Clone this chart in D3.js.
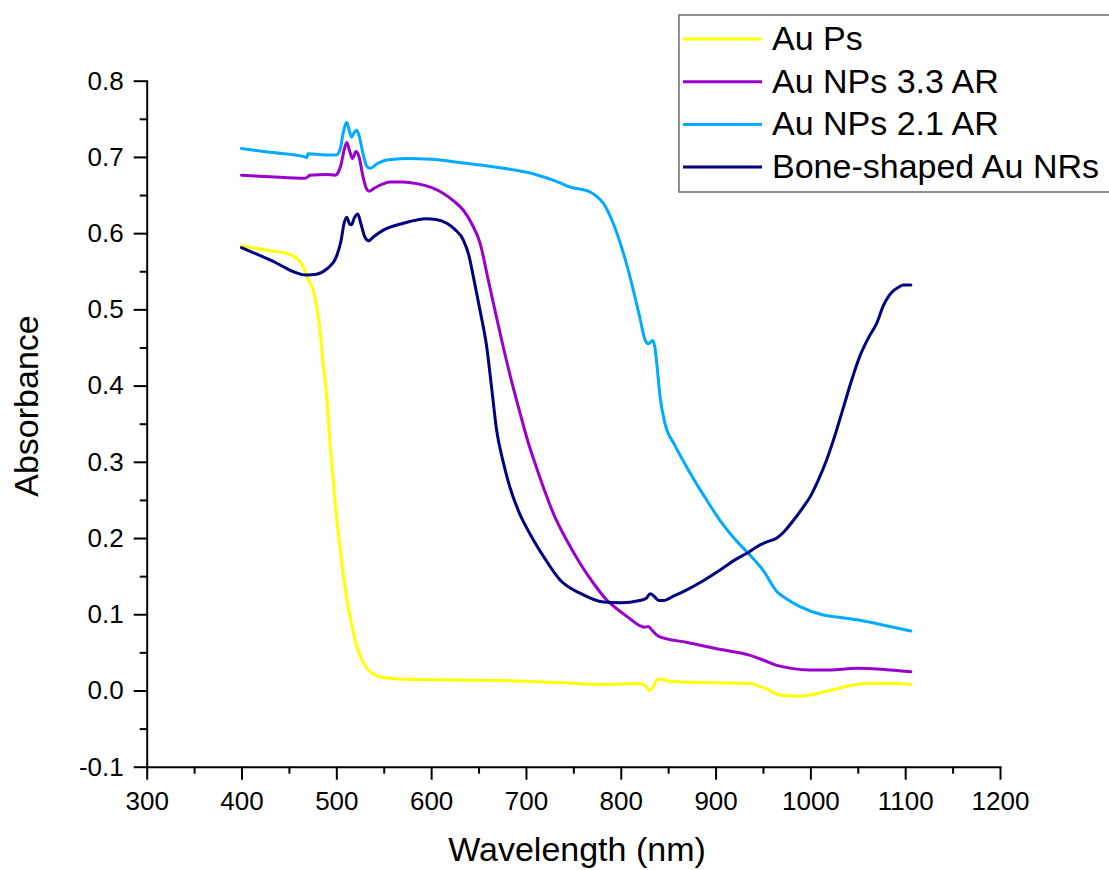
<!DOCTYPE html>
<html>
<head>
<meta charset="utf-8">
<script src="https://cdn.jsdelivr.net/npm/d3@7"></script>
<style>
  body { margin: 0; background: #fff; }
  svg { display: block; font-family: "Liberation Sans", Arial, sans-serif; }
</style>
</head>
<body>
<div id="container"></div>
<script>
// spectra (wavelength nm / absorbance)
const auPsNm = [400, 430, 451, 460, 465, 470, 475.7, 479, 482.8, 486, 489.9, 493, 496.8, 500, 503.9, 507, 511, 516, 521.5, 527, 533, 542.6, 555, 567, 600, 640, 672.7, 700, 740, 780, 820, 826, 830, 834, 838, 842, 850, 900, 936, 947, 957.6, 964.6, 975, 989, 1000, 1013.7, 1030, 1042, 1066, 1090, 1106];
const auPsAbs = [0.583, 0.577, 0.572, 0.565, 0.556, 0.540, 0.525, 0.505, 0.473, 0.43, 0.385, 0.33, 0.276, 0.23, 0.188, 0.155, 0.121, 0.088, 0.058, 0.040, 0.028, 0.019, 0.016, 0.015, 0.014, 0.0135, 0.013, 0.012, 0.010, 0.008, 0.009, 0.006, 0.000, 0.004, 0.014, 0.015, 0.012, 0.010, 0.009, 0.005, 0.000, -0.005, -0.007, -0.0075, -0.006, -0.002, 0.003, 0.0065, 0.0095, 0.009, 0.008];

const np33Nm = [400, 430, 467, 470, 472, 490, 498.6, 502, 505, 508, 511, 514, 517, 520.8, 524, 528, 532, 535, 540, 548, 556.6, 570, 584.8, 600, 613, 624, 634, 643, 651.6, 660, 668, 676, 685, 693.8, 702, 711, 720, 729, 743, 757, 771, 785, 797, 809.8, 820, 825, 829, 833, 840, 870, 900, 936.6, 950, 964.6, 980, 999.7, 1020, 1049, 1075, 1106];
const np33Abs = [0.676, 0.674, 0.672, 0.674, 0.676, 0.677, 0.676, 0.680, 0.690, 0.708, 0.719, 0.708, 0.698, 0.707, 0.700, 0.675, 0.658, 0.655, 0.659, 0.664, 0.667, 0.667, 0.665, 0.660, 0.652, 0.642, 0.630, 0.612, 0.587, 0.540, 0.495, 0.451, 0.405, 0.364, 0.327, 0.293, 0.261, 0.232, 0.197, 0.167, 0.141, 0.119, 0.106, 0.094, 0.085, 0.083, 0.084, 0.079, 0.071, 0.063, 0.055, 0.046, 0.040, 0.033, 0.029, 0.027, 0.027, 0.029, 0.028, 0.0245];

const np21Nm = [400, 430, 467, 469, 470, 485, 500, 504, 507, 511, 514, 516, 519, 521.5, 524, 528, 532, 535.5, 543, 553, 574, 600, 634, 660, 687, 710, 734, 745, 767.6, 775, 781.7, 792, 806, 820, 825.6, 829, 833.8, 836, 838, 841.5, 846.7, 857, 869.6, 887, 904.8, 920, 936, 950, 964.6, 975, 989, 1013.7, 1030, 1052, 1080, 1106];
const np21Abs = [0.711, 0.706, 0.700, 0.699, 0.704, 0.703, 0.7025, 0.710, 0.730, 0.745, 0.733, 0.726, 0.732, 0.735, 0.728, 0.705, 0.688, 0.685, 0.691, 0.696, 0.698, 0.697, 0.692, 0.688, 0.683, 0.677, 0.667, 0.661, 0.654, 0.648, 0.639, 0.613, 0.560, 0.490, 0.460, 0.455, 0.459, 0.450, 0.429, 0.385, 0.350, 0.322, 0.293, 0.257, 0.223, 0.199, 0.178, 0.158, 0.130, 0.120, 0.110, 0.099, 0.096, 0.092, 0.085, 0.078];

const boneNm = [400, 430, 468.8, 479, 490, 500, 505, 508, 511, 514, 516, 519, 522.6, 526, 530, 533.8, 540, 549.6, 570.7, 595, 605, 616.5, 625, 634, 640, 644.5, 652, 658.6, 664, 669, 676, 683, 693, 704, 720, 736, 758, 781.7, 800, 820, 827, 831, 835, 840, 845, 856, 869.6, 887, 904.8, 920, 933, 947, 954, 964.6, 972, 982, 991, 999.7, 1008, 1017, 1026, 1035, 1043, 1052, 1061, 1070, 1077, 1083, 1088, 1093, 1098, 1106];
const boneAbs = [0.581, 0.565, 0.545, 0.546, 0.553, 0.569, 0.590, 0.612, 0.621, 0.612, 0.611, 0.620, 0.625, 0.612, 0.595, 0.590, 0.596, 0.604, 0.613, 0.619, 0.618, 0.613, 0.605, 0.591, 0.570, 0.543, 0.496, 0.451, 0.395, 0.342, 0.300, 0.267, 0.233, 0.206, 0.173, 0.145, 0.127, 0.116, 0.115, 0.118, 0.121, 0.127, 0.124, 0.118, 0.118, 0.124, 0.132, 0.144, 0.158, 0.171, 0.180, 0.191, 0.195, 0.200, 0.208, 0.223, 0.238, 0.254, 0.275, 0.302, 0.335, 0.372, 0.405, 0.438, 0.462, 0.482, 0.505, 0.518, 0.525, 0.529, 0.532, 0.532];

const seriesNames = ["Au Ps", "Au NPs 3.3 AR", "Au NPs 2.1 AR", "Bone-shaped Au NRs"];
const seriesColors = ["#ffff00", "#9900cc", "#00aaff", "#000080"];

const xTicks = [300, 400, 500, 600, 700, 800, 900, 1000, 1100, 1200];
const xMinor = [350, 450, 550, 650, 750, 850, 950, 1050, 1150];
const yTicks = [-0.1, 0.0, 0.1, 0.2, 0.3, 0.4, 0.5, 0.6, 0.7, 0.8];
const yMinor = [-0.05, 0.05, 0.15, 0.25, 0.35, 0.45, 0.55, 0.65, 0.75];

const w = 1109;
const h = 870;
const svg = d3.select("#container").append("svg")
              .attr("width", w).attr("height", h);

const scaleX = d3.scaleLinear().domain([300, 1200]).range([146.7, 1000]);
const scaleY = d3.scaleLinear().domain([-0.1, 0.8]).range([766.7, 80.7]);

const series = [
  auPsNm.map((d, i) => [d, auPsAbs[i]]),
  np33Nm.map((d, i) => [d, np33Abs[i]]),
  np21Nm.map((d, i) => [d, np21Abs[i]]),
  boneNm.map((d, i) => [d, boneAbs[i]])
];

const line = d3.line()
  .x(d => scaleX(d[0]))
  .y(d => scaleY(d[1]))
  .curve(d3.curveMonotoneX);

svg.selectAll("path.curve").data(series).enter().append("path")
   .attr("class", "curve")
   .attr("d", line)
   .attr("fill", "none")
   .attr("stroke", (d, i) => seriesColors[i])
   .attr("stroke-width", 3)
   .attr("stroke-linejoin", "round")
   .attr("stroke-linecap", "round");

// minor ticks first, then the labelled axes on top
svg.append("g")
   .attr("transform", "translate(0, " + scaleY(-0.1) + ")")
   .call(d3.axisBottom(scaleX).tickValues(xMinor).tickSize(7).tickSizeOuter(0).tickFormat(""))
   .call(g => g.select(".domain").remove())
   .selectAll("line").attr("stroke-width", 2);
svg.append("g")
   .attr("transform", "translate(" + scaleX(300) + ", 0)")
   .call(d3.axisLeft(scaleY).tickValues(yMinor).tickSize(7).tickSizeOuter(0).tickFormat(""))
   .call(g => g.select(".domain").remove())
   .selectAll("line").attr("stroke-width", 2);

const xAxisGroup = svg.append("g")
   .attr("transform", "translate(0, " + scaleY(-0.1) + ")")
   .call(d3.axisBottom(scaleX).tickValues(xTicks).tickSize(13).tickSizeOuter(0).tickPadding(12).tickFormat(d3.format("d")));
const yAxisGroup = svg.append("g")
   .attr("transform", "translate(" + scaleX(300) + ", 0)")
   .call(d3.axisLeft(scaleY).tickValues(yTicks).tickSize(13).tickSizeOuter(0).tickPadding(10)
     .tickFormat(d => d3.format(".1f")(d).replace("\u2212", "-")));

[xAxisGroup, yAxisGroup].forEach(g => {
  g.select(".domain").attr("stroke-width", 2).attr("stroke-linecap", "square");
  g.selectAll(".tick line").attr("stroke-width", 2);
  g.selectAll(".tick text").attr("font-size", 26).attr("fill", "#000")
   .attr("font-family", "'Liberation Sans', Arial, sans-serif");
});

svg.append("text")
   .attr("transform", "translate(38, 406) rotate(-90)")
   .attr("text-anchor", "middle")
   .attr("font-size", 34)
   .text("Absorbance");

svg.append("text")
   .attr("x", 577).attr("y", 861)
   .attr("text-anchor", "middle")
   .attr("font-size", 34)
   .text("Wavelength (nm)");

const legend = svg.append("g");
legend.append("rect")
   .attr("x", 679).attr("y", 15)
   .attr("width", 460).attr("height", 177)
   .attr("fill", "#fff")
   .attr("stroke", "#555")
   .attr("stroke-width", 1.3);

const rows = legend.selectAll("g.row").data(seriesNames).enter().append("g")
   .attr("class", "row")
   .attr("transform", (d, i) => "translate(0, " + (50 + i * 42.7) + ")");
rows.append("line")
   .attr("x1", 683).attr("x2", 762)
   .attr("y1", -11).attr("y2", -11)
   .attr("stroke", (d, i) => seriesColors[i])
   .attr("stroke-width", 3);
rows.append("text")
   .attr("x", 772).attr("y", 0)
   .attr("font-size", 34)
   .text(d => d);
</script>
</body>
</html>
